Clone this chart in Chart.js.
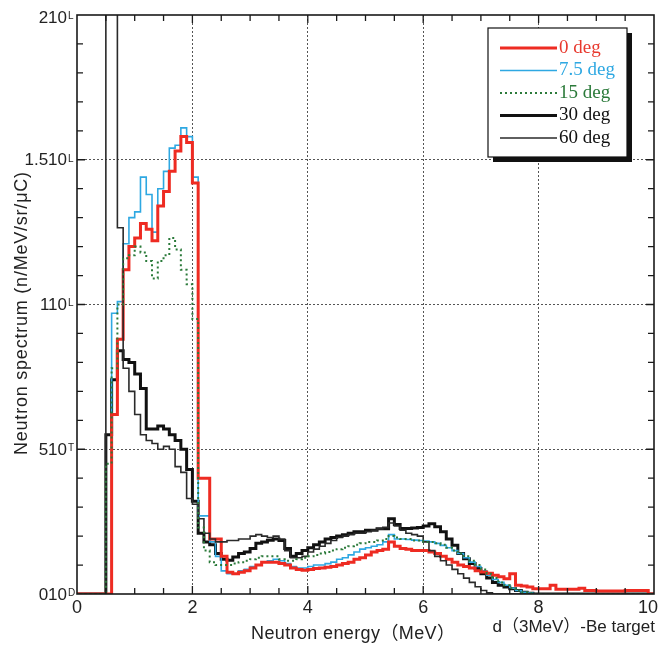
<!DOCTYPE html>
<html>
<head>
<meta charset="utf-8">
<title>Neutron spectrum</title>
<script src="https://cdn.jsdelivr.net/npm/chart.js@4.4.1/dist/chart.umd.min.js"></script>
<style>
  html, body { margin: 0; padding: 0; background: #fff; }
  #wrap { width: 658px; height: 646px; }
</style>
</head>
<body>
<div id="wrap"><canvas id="spectrum" width="658" height="646"></canvas></div>
<script>
// ── Histogram data: 0.1 MeV bins from 0 to 10 MeV, values in units of 10^11 ──
const BIN_WIDTH = 0.1;
const BIN_COUNT = 100;

const deg0 = [
  0, 0, 0, 0, 0, 0, 0.62, 0.88, 1.12, 1.20,
  1.23, 1.28, 1.26, 1.22, 1.34, 1.39, 1.46, 1.53, 1.58, 1.56,
  1.42, 0.40, 0.40, 0.19, 0.19, 0.13, 0.075, 0.07, 0.075, 0.08,
  0.09, 0.10, 0.11, 0.11, 0.11, 0.105, 0.10, 0.09, 0.085, 0.082,
  0.085, 0.088, 0.09, 0.092, 0.095, 0.10, 0.105, 0.11, 0.12, 0.125,
  0.135, 0.145, 0.15, 0.155, 0.18, 0.165, 0.157, 0.155, 0.15, 0.15,
  0.15, 0.145, 0.14, 0.13, 0.12, 0.11, 0.10, 0.095, 0.09, 0.08,
  0.076, 0.072, 0.065, 0.06, 0.053, 0.07, 0.03, 0.028, 0.024, 0.018,
  0.018, 0.018, 0.03, 0.016, 0.016, 0.016, 0.016, 0.02, 0.012, 0.012,
  0.01, 0.01, 0.01, 0.01, 0.01, 0.012, 0.012, 0.012, 0.012, 0
];

const deg7_5 = [
  0, 0, 0, 0, 0, 0, 0.97, 1.01, 1.21, 1.30,
  1.32, 1.44, 1.38, 1.25, 1.40, 1.46, 1.54, 1.55, 1.61, 1.58,
  1.44, 0.27, 0.27, 0.18, 0.13, 0.08, 0.07, 0.07, 0.08, 0.085,
  0.095, 0.10, 0.11, 0.115, 0.12, 0.115, 0.105, 0.095, 0.09, 0.09,
  0.095, 0.10, 0.10, 0.105, 0.11, 0.12, 0.125, 0.135, 0.145, 0.155,
  0.16, 0.165, 0.17, 0.18, 0.205, 0.19, 0.19, 0.188, 0.186, 0.185,
  0.183, 0.18, 0.175, 0.168, 0.16, 0.15, 0.14, 0.125, 0.11, 0.095,
  0.08, 0.065, 0.05, 0.04, 0.03, 0.02, 0.012, 0.006, 0.003, 0,
  0, 0, 0, 0, 0, 0, 0, 0, 0, 0,
  0, 0, 0, 0, 0, 0, 0, 0, 0, 0
];

const deg15 = [
  0, 0, 0, 0, 0, 0.45, 0.78, 1.00, 1.16, 1.17,
  1.20, 1.18, 1.15, 1.09, 1.15, 1.17, 1.23, 1.19, 1.12, 1.07,
  0.95, 0.23, 0.15, 0.11, 0.10, 0.10, 0.10, 0.105, 0.11, 0.115,
  0.12, 0.125, 0.13, 0.13, 0.13, 0.12, 0.115, 0.115, 0.12, 0.125,
  0.13, 0.135, 0.14, 0.145, 0.15, 0.155, 0.16, 0.165, 0.17, 0.175,
  0.18, 0.18, 0.185, 0.19, 0.20, 0.195, 0.19, 0.19, 0.185, 0.185,
  0.18, 0.18, 0.175, 0.17, 0.16, 0.15, 0.14, 0.13, 0.115, 0.10,
  0.085, 0.07, 0.055, 0.04, 0.03, 0.02, 0.012, 0.006, 0.003, 0,
  0, 0, 0, 0, 0, 0, 0, 0, 0, 0,
  0, 0, 0, 0, 0, 0, 0, 0, 0, 0
];

const deg30 = [
  0, 0, 0, 0, 0, 0.55, 0.74, 0.84, 0.81, 0.80,
  0.76, 0.71, 0.57, 0.57, 0.58, 0.57, 0.55, 0.53, 0.50, 0.43,
  0.32, 0.21, 0.18, 0.17, 0.14, 0.12, 0.117, 0.128, 0.14, 0.145,
  0.157, 0.175, 0.18, 0.186, 0.19, 0.185, 0.157, 0.13, 0.14, 0.15,
  0.16, 0.17, 0.18, 0.19, 0.195, 0.20, 0.205, 0.21, 0.215, 0.215,
  0.22, 0.22, 0.225, 0.225, 0.26, 0.24, 0.226, 0.226, 0.228, 0.23,
  0.235, 0.243, 0.232, 0.215, 0.19, 0.168, 0.14, 0.122, 0.105, 0.088,
  0.07, 0.055, 0.04, 0.03, 0.024, 0.018, 0.012, 0.006, 0.003, 0,
  0, 0, 0, 0, 0, 0, 0, 0, 0, 0,
  0, 0, 0, 0, 0, 0, 0, 0, 0, 0
];

const deg60 = [
  0, 0, 0, 0, 0, 3.0, 3.0, 1.265, 0.78, 0.70,
  0.62, 0.55, 0.53, 0.52, 0.50, 0.51, 0.50, 0.44, 0.42, 0.33,
  0.31, 0.26, 0.21, 0.19, 0.18, 0.18, 0.185, 0.185, 0.19, 0.19,
  0.20, 0.205, 0.20, 0.195, 0.20, 0.19, 0.15, 0.125, 0.125, 0.13,
  0.145, 0.155, 0.165, 0.175, 0.185, 0.195, 0.20, 0.205, 0.21, 0.21,
  0.215, 0.22, 0.225, 0.23, 0.245, 0.235, 0.22, 0.21, 0.205, 0.20,
  0.18, 0.15, 0.13, 0.115, 0.10, 0.085, 0.07, 0.055, 0.04, 0.025,
  0.012, 0.004, 0, 0, 0, 0, 0, 0, 0, 0,
  0, 0, 0, 0, 0, 0, 0, 0, 0, 0,
  0, 0, 0, 0, 0, 0, 0, 0, 0, 0
];

const seriesLabels = ['0 deg', '7.5 deg', '15 deg', '30 deg', '60 deg'];

// ── Axis ticks ─────────────────────────────────
const xTickValues = [0, 2, 4, 6, 8, 10];
const xTickLabels = ['0', '2', '4', '6', '8', '10'];
const yTickValues = [0, 0.5, 1, 1.5, 2];
const yTickLabels = ['010', '510', '110', '1.510', '210'];
const yTickMarks  = ['D', 'T', 'L', 'L', 'L'];

// bin edges -> stepped points (last bin closed at 10 MeV)
function toSteps(values) {
  const pts = values.map((v, i) => ({ x: +(i * BIN_WIDTH).toFixed(1), y: v }));
  pts.push({ x: BIN_COUNT * BIN_WIDTH, y: values[values.length - 1] });
  return pts;
}

const styles = [
  { color: '#ee2b22', width: 3,   dash: [],     text: '#e8392e' },
  { color: '#2ea8e2', width: 1.6, dash: [],     text: '#2ea8e2' },
  { color: '#2b7a3a', width: 2,   dash: [2, 3], text: '#2b7a3a' },
  { color: '#111111', width: 3,   dash: [],     text: '#111111' },
  { color: '#2a2a2a', width: 1.6, dash: [],     text: '#111111' },
];
const seriesData = [deg0, deg7_5, deg15, deg30, deg60];

// draw order: black lines on top, then red, green, blue
const drawOrder = [3, 4, 1, 5, 2];

const datasets = seriesData.map((vals, i) => ({
  label: seriesLabels[i],
  data: toSteps(vals),
  stepped: 'before',
  borderColor: styles[i].color,
  borderWidth: styles[i].width,
  borderDash: styles[i].dash,
  pointRadius: 0,
  fill: false,
  clip: 0,
  order: drawOrder[i],
}));

// stretch a caption to a given width with letter spacing
function spreadText(ctx, text, x, y, width) {
  ctx.letterSpacing = '0px';
  const w = ctx.measureText(text).width;
  const gap = Math.max(0, (width - w) / (text.length - 1));
  ctx.letterSpacing = gap.toFixed(2) + 'px';
  ctx.fillText(text, x, y);
  ctx.letterSpacing = '0px';
}

// ── Frame, minor ticks, labels and legend ──────
const decorations = {
  id: 'decorations',
  afterDraw(chart) {
    const { ctx, chartArea: a, scales: { x, y } } = chart;
    ctx.save();

    // frame
    ctx.strokeStyle = '#1a1a1a';
    ctx.lineWidth = 1.6;
    ctx.strokeRect(a.left, a.top, a.right - a.left, a.bottom - a.top);

    // inward ticks on all four sides
    ctx.lineWidth = 1.3;
    ctx.beginPath();
    for (let k = 1; k < 20; k++) {
      const px = x.getPixelForValue(k * 0.5);
      const len = k % 4 === 0 ? 8 : 6;
      ctx.moveTo(px, a.bottom); ctx.lineTo(px, a.bottom - len);
      ctx.moveTo(px, a.top);    ctx.lineTo(px, a.top + len);
    }
    for (let k = 1; k < 20; k++) {
      const py = y.getPixelForValue(k * 0.1);
      const len = k % 5 === 0 ? 8 : 6;
      ctx.moveTo(a.left, py);  ctx.lineTo(a.left + len, py);
      ctx.moveTo(a.right, py); ctx.lineTo(a.right - len, py);
    }
    ctx.stroke();

    // x tick labels
    ctx.fillStyle = '#222';
    ctx.font = '18px "Liberation Sans", Arial, sans-serif';
    ctx.textAlign = 'center';
    ctx.textBaseline = 'middle';
    xTickValues.forEach((v, i) => {
      let px = x.getPixelForValue(v);
      if (v === 10) px -= 6;
      ctx.fillText(xTickLabels[i], px, a.bottom + 14);
    });

    // y tick labels with small raised letter
    yTickValues.forEach((v, i) => {
      const py = y.getPixelForValue(v) + (v === 2 ? 3 : 1);
      ctx.font = '17px "Liberation Sans", Arial, sans-serif';
      ctx.textAlign = 'right';
      ctx.textBaseline = 'middle';
      ctx.fillText(yTickLabels[i], a.left - 10, py);
      ctx.font = '10px "Liberation Sans", Arial, sans-serif';
      ctx.textAlign = 'left';
      ctx.textBaseline = 'top';
      ctx.fillText(yTickMarks[i], a.left - 9, py - 7);
    });

    // axis titles
    ctx.font = '18px "Liberation Sans", "Noto Sans CJK JP", sans-serif';
    ctx.textAlign = 'left';
    ctx.textBaseline = 'middle';
    spreadText(ctx, 'Neutron energy（MeV）', 251, 634, 204);
    ctx.font = '17px "Liberation Sans", "Noto Sans CJK JP", sans-serif';
    ctx.textAlign = 'right';
    ctx.fillText('d（3MeV）-Be target', 655, 627);

    ctx.save();
    ctx.translate(22, 455);
    ctx.rotate(-Math.PI / 2);
    ctx.textAlign = 'left';
    ctx.font = '18px "Liberation Sans", "Noto Sans CJK JP", sans-serif';
    spreadText(ctx, 'Neutron spectrum (n/MeV/sr/μC)', 0, 0, 283);
    ctx.restore();

    // legend box with drop shadow
    const box = { x: 488, y: 28, w: 139, h: 129 };
    ctx.fillStyle = '#111';
    ctx.fillRect(box.x + 5, box.y + 5, box.w, box.h);
    ctx.fillStyle = '#fff';
    ctx.fillRect(box.x, box.y, box.w, box.h);
    ctx.strokeStyle = '#111';
    ctx.lineWidth = 1.2;
    ctx.strokeRect(box.x, box.y, box.w, box.h);

    ctx.font = '19px "Liberation Serif", "Times New Roman", serif';
    ctx.textAlign = 'left';
    ctx.textBaseline = 'middle';
    chart.data.datasets.forEach((ds, i) => {
      const ry = box.y + 20 + i * 22.5;
      ctx.beginPath();
      ctx.strokeStyle = ds.borderColor;
      ctx.lineWidth = ds.borderWidth;
      ctx.setLineDash(ds.borderDash);
      ctx.moveTo(box.x + 12, ry);
      ctx.lineTo(box.x + 69, ry);
      ctx.stroke();
      ctx.setLineDash([]);
      ctx.fillStyle = styles[i].text;
      ctx.fillText(ds.label, box.x + 71, ry);
    });

    ctx.restore();
  }
};

new Chart(document.getElementById('spectrum').getContext('2d'), {
  type: 'line',
  data: { datasets },
  options: {
    responsive: false,
    animation: false,
    devicePixelRatio: 1,
    layout: { padding: { left: 77, top: 15, right: 4, bottom: 52 } },
    plugins: { legend: { display: false }, tooltip: { enabled: false } },
    scales: {
      x: {
        type: 'linear', min: 0, max: 10,
        ticks: { display: false, stepSize: 2 },
        grid: {
          drawTicks: false,
          lineWidth: 1,
          color: c => (c.tick && (c.tick.value === 0 || c.tick.value === 10)) ? 'rgba(0,0,0,0)' : '#555',
        },
        border: { display: false, dash: [2, 2] },
      },
      y: {
        type: 'linear', min: 0, max: 2,
        ticks: { display: false, stepSize: 0.5 },
        grid: {
          drawTicks: false,
          lineWidth: 1,
          color: c => (c.tick && (c.tick.value === 0 || c.tick.value === 2)) ? 'rgba(0,0,0,0)' : '#555',
        },
        border: { display: false, dash: [2, 2] },
      },
    },
  },
  plugins: [decorations],
});
</script>
</body>
</html>
